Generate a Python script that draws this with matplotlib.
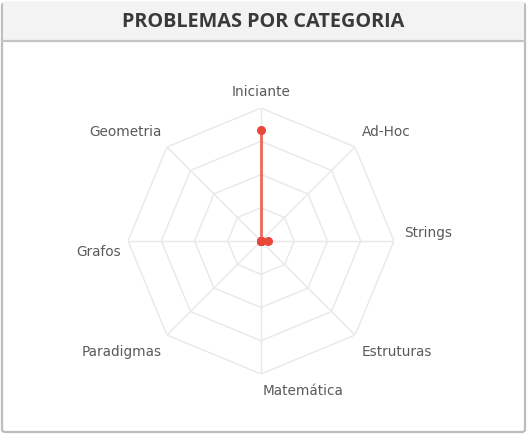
import matplotlib

matplotlib.use("Agg")
import matplotlib.pyplot as plt
import numpy as np
from matplotlib.patches import FancyBboxPatch, Rectangle

# ---- data -----------------------------------------------------------
categories = ["Iniciante", "Ad-Hoc", "Strings", "Estruturas",
              "Matemática", "Paradigmas", "Grafos", "Geometria"]
solved = [50, 0, 3, 0, 0, 0, 0, 0]
scale_max = 60
ring_levels = [15, 30, 45, 60]

# label offsets in pixels from the outer vertex, plus alignment
label_pos = {
    "Iniciante": (0, 16, "center"),
    "Ad-Hoc": (7, 15, "left"),
    "Strings": (10, 8, "left"),
    "Estruturas": (7, -17, "left"),
    "Matemática": (2, -17, "left"),
    "Paradigmas": (-5, -17, "right"),
    "Grafos": (-7, -11, "right"),
    "Geometria": (-5, 15, "right"),
}

W, H = 527, 434
RED = "#e8473a"
GRID = "#e8e8e8"

fig = plt.figure(figsize=(W / 100, H / 100), dpi=100)

# ---- panel frame ------------------------------------------------------
frame = FancyBboxPatch((2 / W, 2 / H), (W - 4) / W, (H - 5) / H,
                       boxstyle="round,pad=0,rounding_size=0.006",
                       transform=fig.transFigure, facecolor="white",
                       edgecolor="#bdbdbd", lw=1.6, zorder=-3)
fig.patches.append(frame)
header = Rectangle((2.8 / W, (H - 41) / H), (W - 5.6) / W, 38.5 / H,
                   transform=fig.transFigure, facecolor="#f3f3f3",
                   edgecolor="none", zorder=-2)
fig.patches.append(header)
fig.add_artist(plt.Line2D([2 / W, (W - 2) / W], [(H - 41) / H] * 2,
                          transform=fig.transFigure, color="#c4c4c4", lw=1.6,
                          zorder=-1))
fig.text(263 / W, (H - 22) / H, "PROBLEMAS POR CATEGORIA", ha="center",
         va="center", fontsize=14.3, fontweight="bold", color="#3a3a3a",
         family="Open Sans")

# ---- radar -------------------------------------------------------------
cx, cy, rad = 261, H - 241, 133
ax = fig.add_axes([(cx - rad) / W, (cy - rad) / H, 2 * rad / W, 2 * rad / H],
                  projection="polar")
ax.set_theta_offset(np.pi / 2)
ax.set_theta_direction(-1)
ax.set_ylim(0, scale_max)
ax.grid(False)
ax.spines["polar"].set_visible(False)
ax.set_xticks([])
ax.set_yticks([])
ax.patch.set_alpha(0)

n = len(categories)
theta = np.arange(n) * 2 * np.pi / n
theta_closed = np.append(theta, theta[0])

for lvl in ring_levels:
    ax.plot(theta_closed, [lvl] * (n + 1), color=GRID, lw=1, zorder=1)
for t in theta:
    ax.plot([t, t], [0, scale_max], color=GRID, lw=1, zorder=1)

vals = np.append(solved, solved[0])
ax.plot(theta_closed, vals, color=RED, lw=2, alpha=0.75, zorder=3)
ax.scatter(theta, solved, s=30, color=RED, zorder=4, clip_on=False)

for t, name in zip(theta, categories):
    dx, dy, ha = label_pos[name]
    ax.annotate(name, (t, scale_max), xytext=(dx, dy),
                textcoords="offset pixels", ha=ha, va="center",
                fontsize=9.8, color="#5a5a5a", annotation_clip=False)

fig.savefig("out.png", dpi=100)
